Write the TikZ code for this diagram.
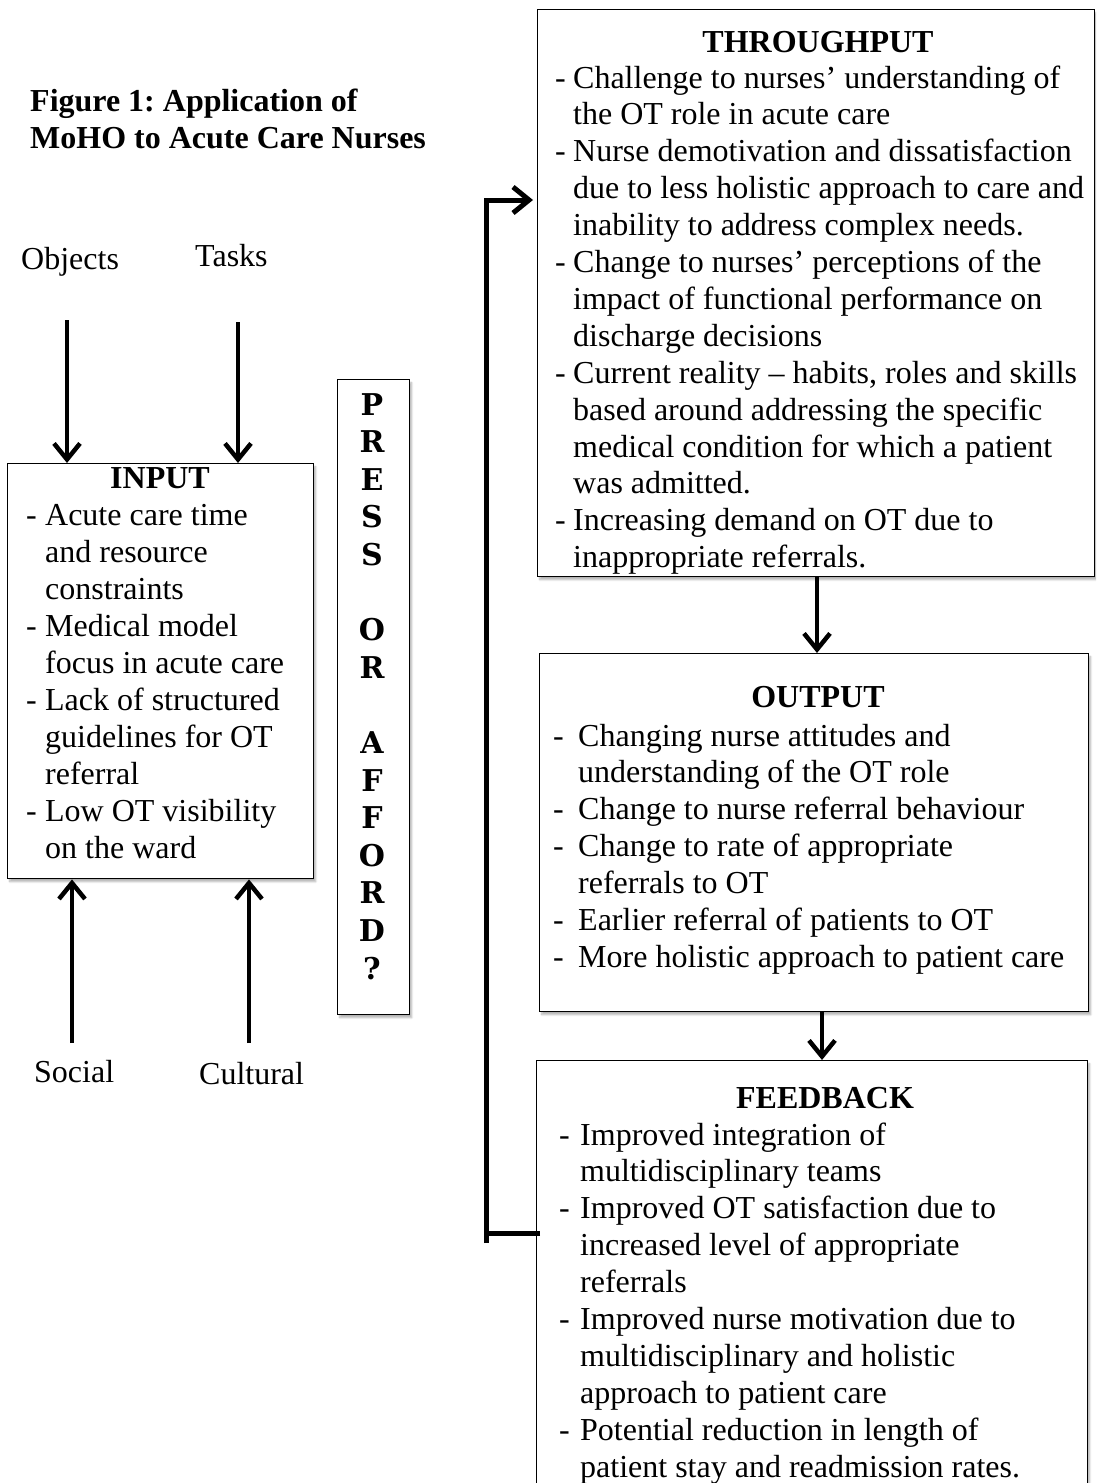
\documentclass[tikz,border=0pt]{standalone}
\usepackage{fontspec}
\setmainfont{Liberation Serif}
\newfontfamily\pressfont{DejaVu Serif}
\usetikzlibrary{arrows.meta,shadows.blur}
\frenchspacing
\newlength\dw
\newcommand\dsh{\makebox[\dw][l]{-}}
\newcommand\ind{\hspace*{\dw}}
\begin{document}
\frenchspacing
\begin{tikzpicture}[x=1pt,y=-1pt,
  box/.style={draw, line width=1.4pt, fill=white, inner sep=0pt, anchor=north west,
    blur shadow={shadow xshift=2pt, shadow yshift=-3pt, shadow blur steps=6, shadow opacity=30}},
  txt/.style={inner sep=0pt, anchor=base west, font=\fontsize{32}{36.9}\selectfont},
  ttl/.style={inner sep=0pt, anchor=base, font=\fontsize{32}{36.9}\selectfont\bfseries},
  arr/.style={line width=4.5pt, -{Straight Barb[length=16pt,width=26pt]}},
  loopline/.style={line width=5pt}]
\useasboundingbox (0,0) rectangle (1096,1483);
\clip (0,0) rectangle (1096,1483);

% title
\node[txt, font=\fontsize{32}{36.9}\selectfont\bfseries] (title1) at (30,111) {Figure 1: Application of};
\node[txt, font=\fontsize{32}{36.9}\selectfont\bfseries] (title2) at (30,148) {MoHO to Acute Care Nurses};

% environment labels
\node[txt] (objects) at (21,269) {Objects};
\node[txt] (tasks) at (195,266) {Tasks};
\node[txt] (social) at (34,1082) {Social};
\node[txt] (cultural) at (199,1084) {Cultural};

% boxes
\node[box, minimum width=306pt, minimum height=415pt] (input) at (7,463) {};
\node[box, minimum width=72pt, minimum height=635pt] (press) at (337,379) {};
\node[box, minimum width=557pt, minimum height=567pt] (throughput) at (537,9) {};
\node[box, minimum width=549pt, minimum height=358pt] (output) at (539,653) {};
\node[box, minimum width=551pt, minimum height=460pt] (feedback) at (536,1060) {};

% input box text
\node[ttl] (inputttl) at (160,488) {INPUT};
\node[txt, font=\fontsize{32}{37}\selectfont] (inputtxt) at (26,525) {\setlength\dw{19pt}\begin{tabular}[t]{@{}l@{}}
\dsh Acute care time\\
\ind and resource\\
\ind constraints\\
\dsh Medical model\\
\ind focus in acute care\\
\dsh Lack of structured\\
\ind guidelines for OT\\
\ind referral\\
\dsh Low OT visibility\\
\ind on the ward
\end{tabular}};

% press or afford
\node[inner sep=0pt, anchor=base, font=\pressfont\bfseries\fontsize{30}{37.6}\selectfont] (presstxt) at (372,415)
{\begin{tabular}[t]{@{}c@{}}P\\R\\E\\S\\S\\ \\O\\R\\ \\A\\F\\F\\O\\R\\D\\?\end{tabular}};

% throughput text
\node[ttl] (throughputttl) at (818,52) {THROUGHPUT};
\node[txt] (throughputtxt) at (555,88) {\setlength\dw{18pt}\begin{tabular}[t]{@{}l@{}}
\dsh Challenge to nurses’ understanding of\\
\ind the OT role in acute care\\
\dsh Nurse demotivation and dissatisfaction\\
\ind due to less holistic approach to care and\\
\ind inability to address complex needs.\\
\dsh Change to nurses’ perceptions of the\\
\ind impact of functional performance on\\
\ind discharge decisions\\
\dsh Current reality – habits, roles and skills\\
\ind based around addressing the specific\\
\ind medical condition for which a patient\\
\ind was admitted.\\
\dsh Increasing demand on OT due to\\
\ind inappropriate referrals.
\end{tabular}};

% output text
\node[ttl] (outputttl) at (818,707) {OUTPUT};
\node[txt] (outputtxt) at (553,746) {\setlength\dw{25pt}\begin{tabular}[t]{@{}l@{}}
\dsh Changing nurse attitudes and\\
\ind understanding of the OT role\\
\dsh Change to nurse referral behaviour\\
\dsh Change to rate of appropriate\\
\ind referrals to OT\\
\dsh Earlier referral of patients to OT\\
\dsh More holistic approach to patient care
\end{tabular}};

% feedback text
\node[ttl] (feedbackttl) at (825,1108) {FEEDBACK};
\node[txt] (feedbacktxt) at (559,1145) {\setlength\dw{21pt}\begin{tabular}[t]{@{}l@{}}
\dsh Improved integration of\\
\ind multidisciplinary teams\\
\dsh Improved OT satisfaction due to\\
\ind increased level of appropriate\\
\ind referrals\\
\dsh Improved nurse motivation due to\\
\ind multidisciplinary and holistic\\
\ind approach to patient care\\
\dsh Potential reduction in length of\\
\ind patient stay and readmission rates.
\end{tabular}};

% environment arrows
\coordinate (objtop) at (67,320);
\coordinate (tasktop) at (238,322);
\coordinate (socbot) at (72,1043);
\coordinate (culbot) at (249,1043);
\draw[arr] (objtop) -- (objtop |- input.north);
\draw[arr] (tasktop) -- (tasktop |- input.north);
\draw[arr] (socbot) -- (socbot |- input.south);
\draw[arr] (culbot) -- (culbot |- input.south);

% flow arrows
\coordinate (t2o) at (817,0);
\coordinate (o2f) at (822,0);
\draw[arr] (t2o |- throughput.south) -- (t2o |- output.north);
\draw[arr] (o2f |- output.south) -- (o2f |- feedback.north);

% feedback loop
\coordinate (loopbot) at (486,1243);
\coordinate (looptop) at (486,197.5);
\coordinate (loopin) at (540,1233);
\coordinate (loopend) at (533,200);
\draw[loopline] (loopin) -- (loopbot |- loopin);
\draw[loopline] (loopbot) -- (looptop);
\draw[loopline, -{Straight Barb[length=16pt,width=26pt]}] (looptop |- loopend) -- (loopend);
\end{tikzpicture}
\end{document}
